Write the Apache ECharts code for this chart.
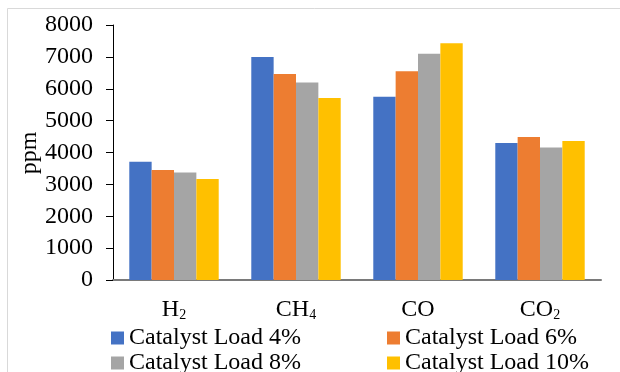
<!DOCTYPE html>
<html>
<head>
<meta charset="utf-8">
<script src="https://cdn.jsdelivr.net/npm/echarts@6/dist/echarts.min.js"></script>
<style>
html,body{margin:0;padding:0;background:#fff;}
#c{width:620px;height:372px;}
</style>
</head>
<body>
<div id="c"></div>
<script>
var categories = ['{m|H}{s|2}', '{m|CH}{s|4}', '{m|CO}', '{m|CO}{s|2}'];
var seriesNames = ['Catalyst Load 4%', 'Catalyst Load 6%', 'Catalyst Load 8%', 'Catalyst Load 10%'];
var load4 = [3710, 7000, 5750, 4300];
var load6 = [3450, 6460, 6550, 4490];
var load8 = [3370, 6200, 7100, 4160];
var load10 = [3170, 5710, 7430, 4360];
var yTicks = [0, 1000, 2000, 3000, 4000, 5000, 6000, 7000, 8000];
var colors = ['#4472C4', '#ED7D31', '#A5A5A5', '#FFC000'];

var font = 'Liberation Serif';
var chart = echarts.init(document.getElementById('c'), null, {renderer: 'canvas'});
var allData = [load4, load6, load8, load10];
var series = seriesNames.map(function (n, i) {
  return {
    name: n, type: 'bar', data: allData[i],
    itemStyle: {color: colors[i]},
    barGap: '0%', barCategoryGap: '26.7%'
  };
});
function makeLegend(names, left) {
  return {
    data: names, left: left,
    orient: 'vertical', top: 326, height: 80,
    itemWidth: 13, itemHeight: 13, itemGap: 1, icon: 'rect', padding: 0,
    textStyle: {fontFamily: font, fontSize: 24, color: '#000', fontWeight: 'normal'}
  };
}
chart.setOption({
  backgroundColor: '#fff',
  animation: false,
  textStyle: {fontFamily: font, color: '#000'},
  graphic: [{
    type: 'rect', silent: true, z: -10,
    shape: {x: 7.5, y: 8.5, width: 700, height: 500},
    style: {fill: 'none', stroke: '#d9d9d9', lineWidth: 1}
  }, {
    type: 'text', silent: true,
    x: 30, y: 153, rotation: Math.PI / 2,
    style: {text: 'ppm', font: '24px "Liberation Serif"', fill: '#000',
      align: 'center', verticalAlign: 'middle'}
  }],
  grid: {left: 113, right: 19, top: 25, bottom: 92, containLabel: false},
  legend: [
    makeLegend([seriesNames[0], seriesNames[2]], 111),
    makeLegend([seriesNames[1], seriesNames[3]], 387)
  ],
  xAxis: {
    type: 'category', data: categories,
    axisLine: {show: true, lineStyle: {color: '#7a7a7a', width: 2}},
    axisTick: {show: false},
    axisLabel: {
      margin: 18, color: '#000',
      rich: {
        m: {fontFamily: font, fontSize: 24, color: '#000'},
        s: {fontFamily: font, fontSize: 14, color: '#000', verticalAlign: 'bottom', padding: [8, 0, 0, 0]}
      }
    }
  },
  yAxis: {
    type: 'value', min: yTicks[0], max: yTicks[yTicks.length - 1], interval: 1000,
    axisLine: {show: true, lineStyle: {color: '#000', width: 1}},
    axisTick: {show: true, length: 7, lineStyle: {color: '#000'}},
    axisLabel: {fontFamily: font, fontSize: 24, color: '#000', margin: 20,
      formatter: function (v) { return String(v); }},
    splitLine: {show: false}
  },
  series: series
});
</script>
</body>
</html>
